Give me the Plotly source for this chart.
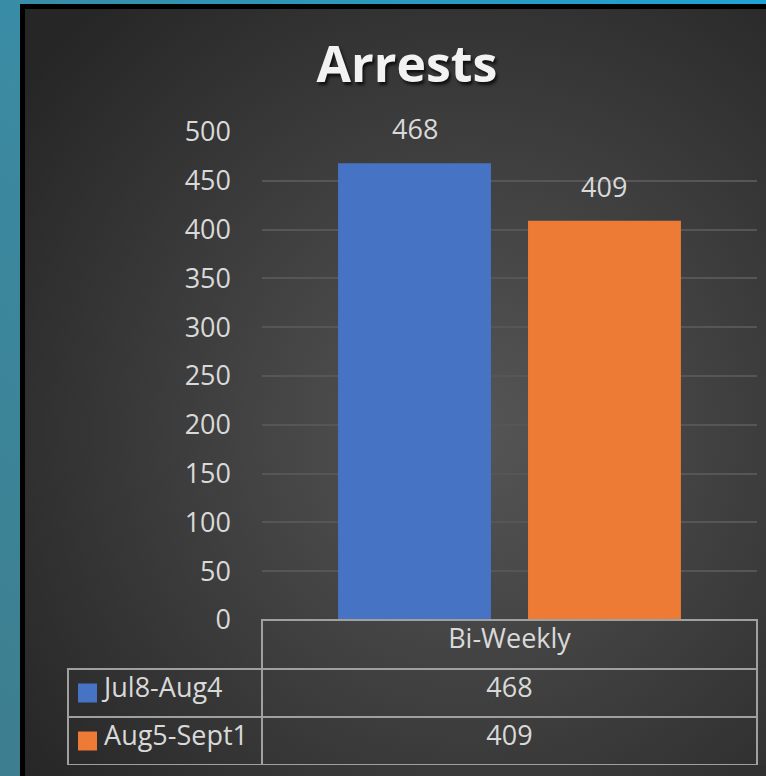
import base64
import plotly.graph_objects as go

# ---- data ----
title_text = "Arrests"
category = "Bi-Weekly"
series_names = ["Jul8-Aug4", "Aug5-Sept1"]
series_values = [468, 409]
series_colors = ["#4773c5", "#ed7b35"]
y_ticks = [0, 50, 100, 150, 200, 250, 300, 350, 400, 450, 500]

W, H = 766, 776
FONT = "Open Sans"
TXT = "#d9d9d9"
FS = 27

# ---- background (teal slide, black frame, radial dark gradient) ----
svg = f"""<svg xmlns='http://www.w3.org/2000/svg' width='{W}' height='{H}' viewBox='0 0 {W} {H}' preserveAspectRatio='none'>
<defs>
<linearGradient id='t' x1='0' y1='1' x2='1' y2='0'>
<stop offset='0' stop-color='#3d7e8f'/><stop offset='0.45' stop-color='#3b8aa1'/><stop offset='1' stop-color='#1ea2d4'/>
</linearGradient>
<radialGradient id='g' cx='0.6' cy='0.55' r='0.75'>
<stop offset='0' stop-color='#565656'/><stop offset='1' stop-color='#262626'/>
</radialGradient>
</defs>
<rect width='{W}' height='{H}' fill='url(#t)'/>
<rect x='20' y='4' width='{W-20}' height='{H-4}' fill='#000'/>
<rect x='25' y='9' width='{W-25}' height='{H-9}' fill='url(#g)'/>
</svg>"""
bg_src = "data:image/svg+xml;base64," + base64.b64encode(svg.encode()).decode()

fig = go.Figure()

for name, val, col in zip(series_names, series_values, series_colors):
    fig.add_trace(go.Bar(
        x=[name], y=[val], name=name,
        marker=dict(color=col, line=dict(width=0)),
        showlegend=False,
        hovertemplate=f"{category}<br>{name}: %{{y}}<extra></extra>",
    ))

# data labels above bars
for name, val in zip(series_names, series_values):
    fig.add_annotation(
        x=name, y=val, xref="x", yref="y", text=str(val), showarrow=False,
        yanchor="bottom", yshift=14,
        font=dict(family=FONT, size=FS, color=TXT),
    )

# data table under the chart
TAB_TOP, HDR_H, ROW_H, TAB_L, TAB_SPLIT, TAB_R = 620, 49, 48, 68, 262, 757
tab_bottom = TAB_TOP + HDR_H + ROW_H * len(series_names)
legend_cells = ["\u00a0" * 4 + n for n in series_names]
value_cells = [str(v) for v in series_values]
fig.add_trace(go.Table(
    domain=dict(x=[TAB_L / W, TAB_R / W], y=[(H - tab_bottom) / H, (H - TAB_TOP) / H]),
    columnwidth=[TAB_SPLIT - TAB_L, TAB_R - TAB_SPLIT],
    header=dict(
        values=["", category], height=HDR_H,
        fill=dict(color="rgba(0,0,0,0)"),
        line=dict(color=["rgba(0,0,0,0)", "#a0a0a0"], width=2),
        align="center",
        font=dict(family=FONT, size=FS, color=TXT),
    ),
    cells=dict(
        values=[legend_cells, value_cells], height=ROW_H,
        fill=dict(color="rgba(0,0,0,0)"),
        line=dict(color="#a0a0a0", width=2),
        align=["left", "center"],
        font=dict(family=FONT, size=FS, color=TXT),
    ),
))

# legend keys in the table's first column
for i, col in enumerate(series_colors):
    cy = TAB_TOP + HDR_H + ROW_H * i + ROW_H / 2
    fig.add_shape(type="rect", xref="paper", yref="paper",
                  x0=78 / W, x1=97 / W, y0=(H - cy - 9.5) / H, y1=(H - cy + 9.5) / H,
                  fillcolor=col, line=dict(width=0), layer="above")

x_dom = [262 / W, 757 / W]
y_dom = [(H - 620) / H, (H - 131) / H]

fig.update_layout(
    width=W, height=H,
    margin=dict(l=0, r=0, t=0, b=0, pad=0, autoexpand=False),
    paper_bgcolor="#333333",
    plot_bgcolor="rgba(0,0,0,0)",
    barmode="overlay",
    bargap=0.195,
    images=[dict(source=bg_src, xref="paper", yref="paper", x=0, y=1,
                 sizex=1, sizey=1, xanchor="left", yanchor="top",
                 sizing="stretch", layer="below")],
    title=dict(
        text=title_text, x=407 / W, xanchor="center", y=1 - 64 / H, yanchor="middle",
        font=dict(family=FONT, size=50, color="#f2f2f2", weight="bold",
                  shadow="2px 3px 3px rgba(0,0,0,0.7)"),
    ),
    xaxis=dict(
        domain=x_dom, range=[-0.803, 1.803], showticklabels=False,
        showgrid=False, zeroline=False, showline=False, ticks="", automargin=False,
    ),
    yaxis=dict(
        domain=y_dom, range=[0, 501], tickvals=y_ticks,
        showgrid=True, gridcolor="#565656", gridwidth=2,
        zeroline=False, showline=False, ticks="", automargin=False,
        ticklabelstandoff=30,
        tickfont=dict(family=FONT, size=FS, color=TXT),
    ),
    font=dict(family=FONT, color=TXT),
)

fig.write_html(
    "out.html",
    config={"displayModeBar": False},
    post_script="document.body.style.margin='0';document.body.style.padding='0';",
)
